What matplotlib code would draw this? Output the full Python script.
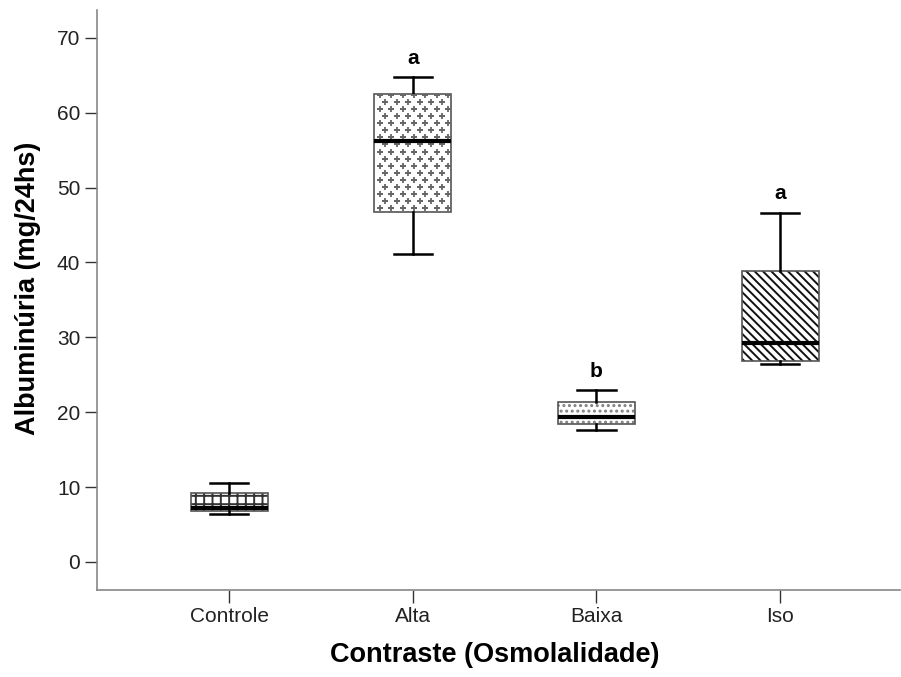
import numpy as np
import matplotlib.pyplot as plt
from matplotlib import rc

rc('font', **{'family': 'sans-serif', 'sans-serif': ['Liberation Sans']})
rc('hatch', linewidth=1.4)

# ## Data ## #
groups = ['Controle', 'Alta', 'Baixa', 'Iso']
whisLow = [6.4, 41.1, 17.6, 26.5]
q1 = [6.8, 46.7, 18.4, 26.9]
median = [7.2, 56.2, 19.4, 29.2]
q3 = [9.2, 62.5, 21.3, 38.8]
whisHigh = [10.6, 64.7, 22.9, 46.6]
letters = ['', 'a', 'b', 'a']

hatches = ['++', '', '...', '\\\\\\\\']
hatchColors = ['#333333', '#555555', '#808080', '#111111']

boxWidth = 0.42

fig = plt.figure(figsize=(9.01, 6.77), dpi=100)
ax = fig.add_axes([0.1077, 0.1285, 0.8913, 0.8567])

stats = []
for i in range(len(groups)):
    stats.append({'label': groups[i], 'whislo': whisLow[i], 'q1': q1[i],
                  'med': median[i], 'q3': q3[i], 'whishi': whisHigh[i],
                  'fliers': []})

positions = np.arange(1, len(groups) + 1)
bp = ax.bxp(stats, positions=positions, widths=boxWidth, patch_artist=True,
            showfliers=False,
            boxprops=dict(facecolor='white', edgecolor='#555555',
                          linewidth=1.2),
            medianprops=dict(color='black', linewidth=3.0),
            whiskerprops=dict(color='black', linewidth=1.8),
            capprops=dict(color='black', linewidth=1.8),
            capwidths=boxWidth / 2)

for patch, h, c in zip(bp['boxes'], hatches, hatchColors):
    patch.set_hatch(h)
    patch._hatch_color = plt.matplotlib.colors.to_rgba(c)

# small plus signs for the 'Alta' box (no matching built-in hatch)
altaBox = bp['boxes'][1]
px = []
py = []
rowStep = 0.95
colStep = 0.062
row = 0
yv = q1[1] + 0.5
while yv < q3[1]:
    shift = colStep / 2 if row % 2 else 0
    xv = positions[1] - boxWidth / 2 + 0.03 + shift
    while xv < positions[1] + boxWidth / 2:
        px.append(xv)
        py.append(yv)
        xv += colStep
    yv += rowStep
    row += 1
pts = ax.scatter(px, py, marker='+', s=20, color='#666666', linewidths=1.3,
                 zorder=3)
pts.set_clip_path(altaBox)
for m in bp['medians']:
    m.set_zorder(4)

for pos, top, let in zip(positions, whisHigh, letters):
    if let:
        ax.annotate(let, (pos, top), xytext=(0, 10),
                    textcoords='offset points', ha='center', va='baseline',
                    fontsize=15, fontweight='bold')

ax.set_xlim(0.281, 4.653)
ax.set_ylim(-3.74, 73.7)
ax.set_yticks(np.arange(0, 71, 10))
ax.set_xticks(positions)
ax.set_xticklabels(groups)

for side in ['top', 'right']:
    ax.spines[side].set_visible(False)
for side in ['left', 'bottom']:
    ax.spines[side].set_color('#888888')
    ax.spines[side].set_linewidth(1.2)

ax.tick_params(axis='both', which='major', labelsize=15, length=9,
               width=1.0, color='#333333', labelcolor='#222222', pad=3)
ax.set_xlabel('Contraste (Osmolalidade)', fontsize=19.5, fontweight='bold')
ax.set_ylabel('Albuminúria (mg/24hs)', fontsize=19.5, fontweight='bold')
ax.xaxis.set_label_coords(0.5 - 0.005, -0.112)
ax.yaxis.set_label_coords(-0.086, 0.5 + 0.02)
ax.xaxis.label.set_va('center')
ax.yaxis.label.set_va('center')

plt.savefig('out.png', dpi=100)
